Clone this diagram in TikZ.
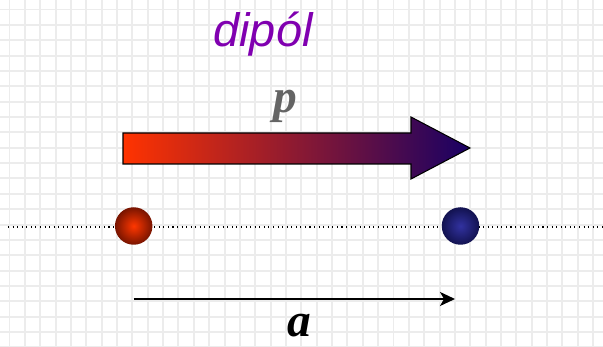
\documentclass[tikz,border=0pt]{standalone}
\usepackage{fontspec}
\usepackage{xcolor}
\usepackage{tikz}
\usetikzlibrary{arrows.meta}
\setmainfont{Liberation Serif}
\newfontfamily\labelfont{Liberation Sans}

\definecolor{gridgray}{RGB}{236,236,236}
\definecolor{titlepurple}{RGB}{128,0,176}
\definecolor{vecgray}{RGB}{100,100,100}
\definecolor{arrowred}{RGB}{255,51,0}
\definecolor{arrowmid}{RGB}{185,35,80}
\definecolor{arrownavy}{RGB}{24,0,100}
\definecolor{negin}{RGB}{255,55,0}
\definecolor{negout}{RGB}{120,20,0}
\definecolor{posin}{RGB}{50,50,160}
\definecolor{posout}{RGB}{18,18,80}

\begin{document}
\begin{tikzpicture}[x=0.02cm, y=-0.02cm]
    \useasboundingbox (0,0) rectangle (603,347);

    % Grid paper
    \foreach \i in {0,...,38}
        \draw[gridgray, line width=1.1pt] (9.5+15.36*\i,0) -- (9.5+15.36*\i,347);
    \foreach \j in {0,...,22}
        \draw[gridgray, line width=1.1pt] (0,9.5+15.36*\j) -- (603,9.5+15.36*\j);

    % Title
    \node[anchor=base, inner sep=0pt, text=titlepurple, font=\labelfont\itshape\fontsize{26.7}{30}\selectfont] (title) at (263,47) {dipól};

    % Dipole moment
    \node[anchor=base, inner sep=0pt, text=vecgray, font=\bfseries\itshape\fontsize{27}{30}\selectfont] (plabel) at (285,113) {p};
    \shade[left color=arrowred, middle color=arrowmid, right color=arrownavy, draw=black, line width=0.6pt]
        (123,133) -- (411,133) -- (411,117) -- (470,148) -- (411,179) -- (411,164) -- (123,164) -- cycle;

    % Axis
    \coordinate (axisleft) at (8,227);
    \coordinate (axisright) at (603,227);
    \draw[dotted, line width=0.6pt] (axisleft) -- (axisright);

    % Charges
    \node[circle, inner sep=0pt, minimum size=0.75cm, inner color=negin, outer color=negout] (neg) at (133.7,226) {};
    \node[circle, inner sep=0pt, minimum size=0.75cm, inner color=posin, outer color=posout] (pos) at (460.5,226) {};

    % Distance
    \coordinate (astart) at (neg.center |- 0,299);
    \coordinate (aend) at (455,299);
    \draw[-{Stealth[length=0.3cm, width=0.28cm, inset=0.08cm]}, line width=1.1pt] (astart) -- (aend);
    \node[anchor=base, inner sep=0pt, font=\bfseries\itshape\fontsize{27}{30}\selectfont] (alabel) at (299.5,337) {a};
\end{tikzpicture}
\end{document}
